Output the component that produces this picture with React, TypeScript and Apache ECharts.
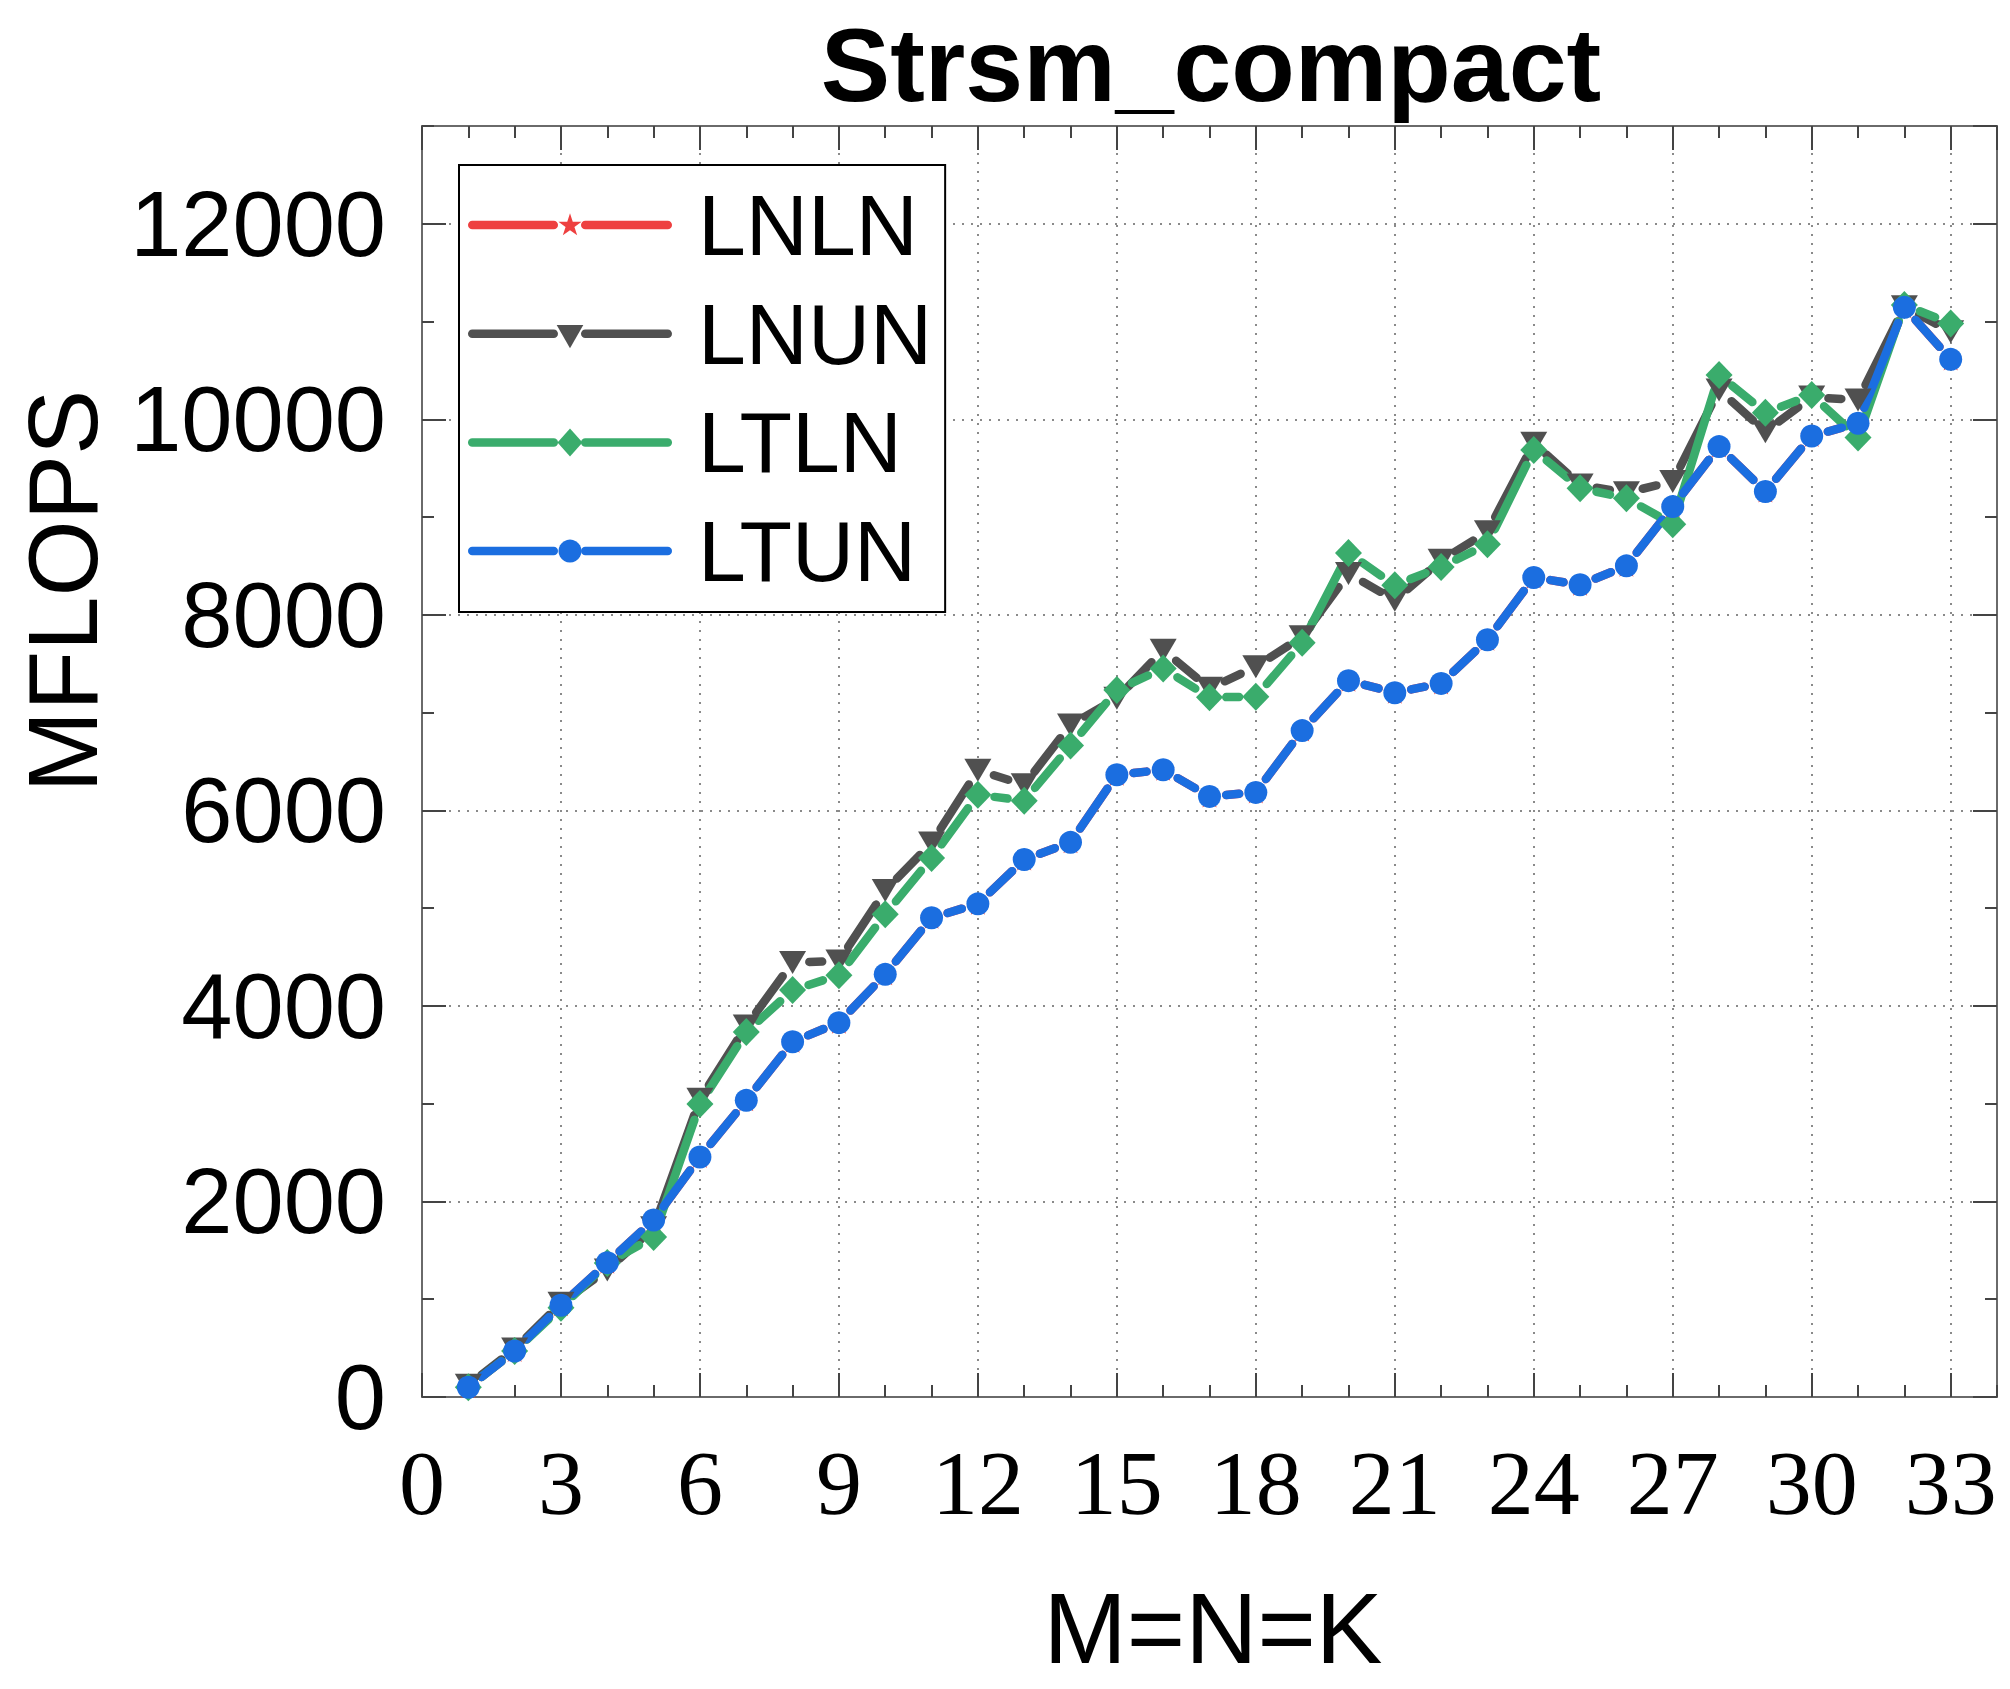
import React, { useEffect, useRef } from 'react';
import * as echarts from 'echarts';

// ---------- data ----------
const sizes = [1, 2, 3, 4, 5, 6, 7, 8, 9, 10, 11, 12, 13, 14, 15, 16, 17, 18, 19, 20, 21, 22, 23, 24, 25, 26, 27, 28, 29, 30, 31, 32, 33];

const lnln = [100, 470, 938, 1374, 1810, 2455, 3034, 3634, 3829, 4323, 4901, 5044, 5497, 5673, 6364, 6415, 6143, 6184, 6816, 7327, 7204, 7299, 7746, 8382, 8307, 8501, 9107, 9721, 9261, 9830, 9959, 11145, 10613];
const lnun = [120, 490, 960, 1300, 1730, 3045, 3795, 4443, 4460, 5180, 5667, 6410, 6262, 6874, 7146, 7639, 7248, 7469, 7776, 8422, 8150, 8558, 8850, 9755, 9329, 9250, 9363, 10300, 9874, 10227, 10198, 11150, 10896];
const ltln = [100, 470, 914, 1370, 1637, 2997, 3733, 4163, 4313, 4937, 5514, 6160, 6099, 6663, 7231, 7452, 7156, 7163, 7714, 8633, 8303, 8490, 8722, 9687, 9295, 9193, 8927, 10453, 10068, 10249, 9813, 11169, 10981];
const ltun = [100, 470, 938, 1374, 1810, 2455, 3034, 3634, 3829, 4323, 4901, 5044, 5497, 5673, 6364, 6415, 6143, 6184, 6816, 7327, 7204, 7299, 7746, 8382, 8307, 8501, 9107, 9721, 9261, 9830, 9959, 11145, 10613];

const seriesNames = ['LNLN', 'LNUN', 'LTLN', 'LTUN'];
const seriesValues = [lnln, lnun, ltln, ltun];
const seriesColors = ['#EE4040', '#505050', '#3AAC6C', '#1B6EE0'];

const xMin = 0;
const xMax = 34;
const xLabelStep = 3;
const xMinorStep = 1;
const yMin = 0;
const yMax = 13000;
const yLabelStep = 2000;
const yMinorStep = 1000;

const titleText = 'Strsm_compact';
const xTitle = 'M=N=K';
const yTitle = 'MFLOPS';

// ---------- symbols ----------
const STAR = 'path://M12,0 L14.70,8.28 L23.41,8.29 L16.37,13.42 L19.05,21.71 L12,16.6 L4.95,21.71 L7.63,13.42 L0.59,8.29 L9.30,8.28 Z';
const symbols = [STAR, 'triangle', 'diamond', 'circle'];
const symbolSizes: any[] = [[23, 22], [27, 23], [27, 28], 23];
const symbolRotates = [0, 180, 0, 0];
const LINE_W = 8.5;

function starPoints(cx: number, cy: number, R: number) {
  const r = R * 0.382;
  const pts: number[][] = [];
  for (let k = 0; k < 10; k++) {
    const ang = (-90 + k * 36) * Math.PI / 180;
    const rr = k % 2 === 0 ? R : r;
    pts.push([cx + rr * Math.cos(ang), cy + rr * Math.sin(ang)]);
  }
  return pts;
}

// legend layout (box + text via the legend component, icons via graphic)
const LEG_LEFT = 459;
const LEG_TOP = 165;
const LEG_PAD: number[] = [10, 13, 11, 9];
const LEG_ICON_W = 204;
const LEG_ROW_H = 100;
const LEG_GAP = 8.7;

function legendIconElements(): any[] {
  const els: any[] = [];
  const x0 = LEG_LEFT + LEG_PAD[3];
  const cx = x0 + LEG_ICON_W / 2;
  const r = LINE_W / 2;
  seriesNames.forEach((_, i) => {
    const cy = LEG_TOP + LEG_PAD[0] + LEG_ROW_H / 2 + i * (LEG_ROW_H + LEG_GAP);
    const color = seriesColors[i];
    const lineStyle = { stroke: color, lineWidth: LINE_W, lineCap: 'round' };
    els.push({ type: 'line', z: 100, silent: true, shape: { x1: x0 + r, y1: cy, x2: cx - 12 - r, y2: cy }, style: lineStyle });
    els.push({ type: 'line', z: 100, silent: true, shape: { x1: cx + 11 + r, y1: cy, x2: x0 + LEG_ICON_W - r, y2: cy }, style: lineStyle });
    if (i === 0) {
      els.push({ type: 'polygon', z: 101, silent: true, shape: { points: starPoints(cx, cy + 0.5, 12.2) }, style: { fill: color } });
    } else if (i === 1) {
      els.push({ type: 'polygon', z: 101, silent: true, shape: { points: [[cx - 13.3, cy - 8.7], [cx + 13.3, cy - 8.7], [cx, cy + 14.6]] }, style: { fill: color } });
    } else if (i === 2) {
      els.push({ type: 'polygon', z: 101, silent: true, shape: { points: [[cx, cy - 14], [cx + 12.5, cy], [cx, cy + 14], [cx - 12.5, cy]] }, style: { fill: color } });
    } else {
      els.push({ type: 'circle', z: 101, silent: true, shape: { cx, cy, r: 11.5 }, style: { fill: color } });
    }
  });
  return els;
}

const GAP = 16.75; // distance from marker centre to the (round-capped) segment end point
function segmentSeries(values: number[], color: string) {
  const data: number[][] = [];
  for (let i = 0; i < sizes.length - 1; i++) {
    data.push([sizes[i], values[i], sizes[i + 1], values[i + 1]]);
  }
  return {
    type: 'custom',
    silent: true,
    data,
    encode: { x: [0, 2], y: [1, 3] },
    renderItem: (_params: any, api: any) => {
      const a = api.coord([api.value(0), api.value(1)]);
      const b = api.coord([api.value(2), api.value(3)]);
      const dx = b[0] - a[0];
      const dy = b[1] - a[1];
      const len = Math.sqrt(dx * dx + dy * dy);
      if (len <= 2 * GAP + 1) return { type: 'group', children: [] };
      const ux = dx / len;
      const uy = dy / len;
      return {
        type: 'line',
        shape: { x1: a[0] + ux * GAP, y1: a[1] + uy * GAP, x2: b[0] - ux * GAP, y2: b[1] - uy * GAP },
        style: { stroke: color, lineWidth: LINE_W, lineCap: 'round', fill: null },
      };
    },
  };
}

const axisLineStyle = { color: '#6a6a6a', width: 2 };
const tickLineStyle = { color: '#444', width: 2 };
const gridLineStyle = { color: '#8a8a8a', width: 2, type: [2, 7] as any };

function mainAxis(position: string, min: number, max: number, interval: number, label: any, split: boolean) {
  return {
    type: 'value',
    position,
    min,
    max,
    interval,
    axisLine: { show: true, onZero: false, lineStyle: axisLineStyle },
    axisTick: { show: true, inside: true, length: 24, lineStyle: tickLineStyle },
    axisLabel: label,
    splitLine: { show: split, lineStyle: gridLineStyle },
  };
}
function minorAxis(position: string, min: number, max: number, interval: number) {
  return {
    type: 'value',
    position,
    min,
    max,
    interval,
    axisLine: { show: false, onZero: false },
    axisTick: { show: true, inside: true, length: 12, lineStyle: tickLineStyle },
    axisLabel: { show: false },
    splitLine: { show: false },
  };
}

export default function App() {
  const ref = useRef<HTMLDivElement>(null);
  useEffect(() => {
    document.body.style.margin = '0';
    if (!ref.current) return;
    const chart = echarts.init(ref.current, null as any, { renderer: 'svg', width: 2010, height: 1689 });

    const series: any[] = [];
    seriesNames.forEach((name, i) => {
      series.push(segmentSeries(seriesValues[i], seriesColors[i]));
      series.push({
        type: 'scatter',
        name,
        data: sizes.map((x, j) => [x, seriesValues[i][j]]),
        symbol: symbols[i],
        symbolSize: symbolSizes[i],
        symbolRotate: symbolRotates[i],
        itemStyle: { color: seriesColors[i], opacity: 1 },
        silent: true,
      });
    });

    const plain = (v: number) => String(v);

    const option: any = {
      animation: false,
      backgroundColor: '#fff',
      grid: { left: 422, right: 13, top: 126, bottom: 292, containLabel: false },
      xAxis: [
        mainAxis('bottom', xMin, xMax, xLabelStep, {
          show: true, margin: 40, fontFamily: 'Liberation Serif', fontSize: 92, color: '#000',
          showMaxLabel: false, showMinLabel: true, formatter: plain,
        }, true),
        minorAxis('bottom', xMin, xMax, xMinorStep),
        mainAxis('top', xMin, xMax, xLabelStep, { show: false }, false),
        minorAxis('top', xMin, xMax, xMinorStep),
      ],
      yAxis: [
        mainAxis('left', yMin, yMax, yLabelStep, {
          show: true, margin: 36, fontFamily: 'Liberation Sans', fontSize: 92, color: '#000',
          showMaxLabel: false, showMinLabel: true, formatter: plain,
        }, true),
        minorAxis('left', yMin, yMax, yMinorStep),
        mainAxis('right', yMin, yMax, yLabelStep, { show: false }, false),
        minorAxis('right', yMin, yMax, yMinorStep),
      ],
      legend: {
        orient: 'vertical',
        left: LEG_LEFT,
        top: LEG_TOP,
        padding: LEG_PAD,
        itemWidth: LEG_ICON_W,
        itemHeight: 30,
        itemGap: LEG_GAP,
        borderColor: '#000',
        borderWidth: 2,
        backgroundColor: '#fff',
        selectedMode: false,
        icon: 'rect',
        itemStyle: { color: 'rgba(255,255,255,0)', borderWidth: 0, opacity: 0 },
        textStyle: { fontFamily: 'Liberation Sans', fontSize: 86, color: '#000', lineHeight: LEG_ROW_H, padding: [0, 0, 0, 21] },
        data: seriesNames.map((n) => ({ name: n })),
      },
      graphic: [
        {
          type: 'text', x: 1211, y: 65,
          style: { text: titleText, font: 'bold 104px "Liberation Sans"', fill: '#000', textAlign: 'center', textVerticalAlign: 'middle' },
        },
        {
          type: 'text', x: 1213, y: 1628,
          style: { text: xTitle, font: '100px "Liberation Sans"', fill: '#000', textAlign: 'center', textVerticalAlign: 'middle' },
        },
        {
          type: 'text', x: 63, y: 591, rotation: Math.PI / 2,
          style: { text: yTitle, font: '98px "Liberation Sans"', fill: '#000', textAlign: 'center', textVerticalAlign: 'middle' },
        },
        ...legendIconElements(),
      ],
      series,
    };
    chart.setOption(option);
    return () => chart.dispose();
  }, []);
  return <div ref={ref} style={{ width: 2010, height: 1689 }} />;
}
